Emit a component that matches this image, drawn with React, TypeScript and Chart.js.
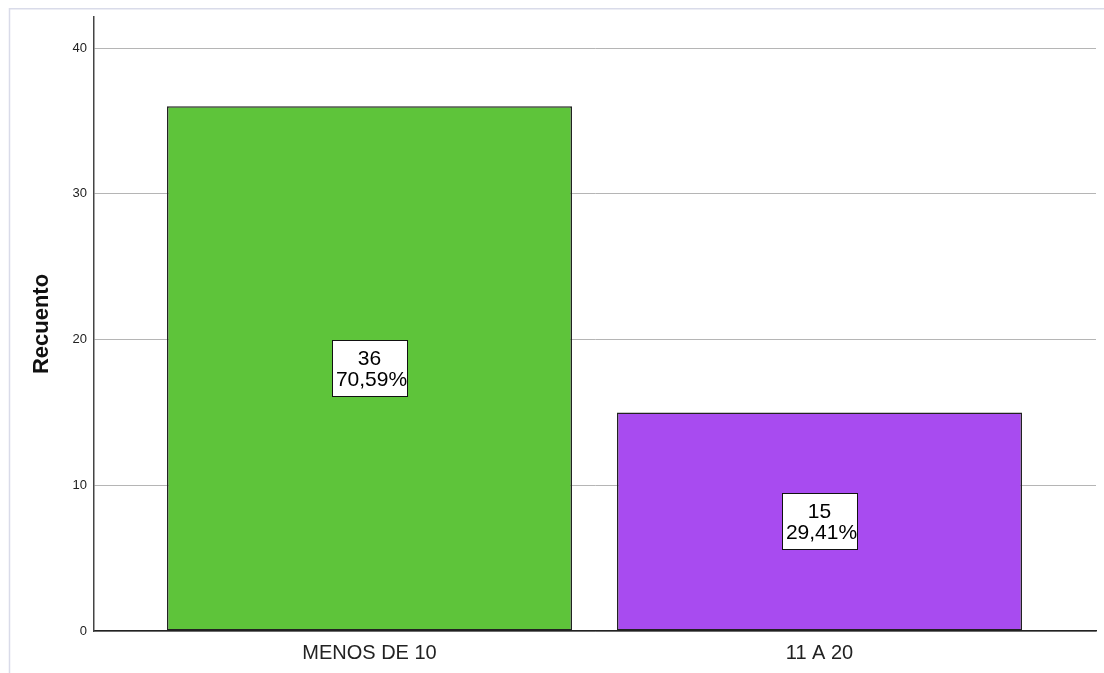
import React, { useEffect, useRef } from "react";
import { Chart, registerables } from "chart.js";

Chart.register(...registerables);

// Categories and counts
const categories = ["MENOS DE 10", "11 A 20"];
const counts = [36, 15];
const barColors = ["#5ec43a", "#a84bf0"];
const yTicks = [0, 10, 20, 30, 40];
const yTitle = "Recuento";

const FONT = "'Liberation Sans', Arial, Helvetica, sans-serif";

export default function App() {
  const canvasRef = useRef<HTMLCanvasElement | null>(null);

  useEffect(() => {
    const canvas = canvasRef.current;
    if (!canvas) return;
    const total = counts.reduce((a, b) => a + b, 0);

    // Outer light frame around the output panel
    const framePlugin = {
      id: "frame",
      beforeDraw(chart: any) {
        const ctx = chart.ctx;
        ctx.save();
        ctx.fillStyle = "#ffffff";
        ctx.fillRect(0, 0, chart.width, chart.height);
        ctx.strokeStyle = "#d9dbe9";
        ctx.lineWidth = 1.5;
        ctx.beginPath();
        ctx.moveTo(9.5, chart.height);
        ctx.lineTo(9.5, 8.75);
        ctx.lineTo(chart.width, 8.75);
        ctx.stroke();
        ctx.restore();
      },
    };

    // Rotated y-axis title and boxed count / percent labels inside bars
    const labelPlugin = {
      id: "barLabels",
      afterDraw(chart: any) {
        const ctx = chart.ctx;
        const area = chart.chartArea;
        ctx.save();
        ctx.translate(42, (area.top + area.bottom) / 2);
        ctx.rotate(-Math.PI / 2);
        ctx.fillStyle = "#111";
        ctx.font = `bold 22px ${FONT}`;
        ctx.textAlign = "center";
        ctx.textBaseline = "middle";
        ctx.fillText(yTitle, 0, 0);
        ctx.restore();

        const meta = chart.getDatasetMeta(0);
        meta.data.forEach((bar: any, i: number) => {
          const cx = bar.x;
          const cy = (bar.y + bar.base) / 2;
          const pct = ((counts[i] / total) * 100).toFixed(2).replace(".", ",") + "%";
          const w = 75;
          const h = 56;
          ctx.save();
          ctx.fillStyle = "#ffffff";
          ctx.fillRect(cx - w / 2, cy - h / 2, w, h);
          ctx.strokeStyle = "#111";
          ctx.lineWidth = 1;
          ctx.strokeRect(Math.round(cx - w / 2) + 0.5, Math.round(cy - h / 2) + 0.5, w, h);
          ctx.fillStyle = "#000";
          ctx.font = `21px ${FONT}`;
          ctx.textAlign = "center";
          ctx.textBaseline = "middle";
          ctx.fillText(String(counts[i]), cx, cy - 9);
          ctx.fillText(pct, cx + 2, cy + 12);
          ctx.restore();
        });
      },
    };

    const chart = new Chart(canvas, {
      type: "bar",
      data: {
        datasets: [
          {
            data: counts.map((v, i) => ({ x: i, y: v })),
            backgroundColor: barColors,
            borderColor: "#222222",
            borderWidth: 1.5,
            borderSkipped: false,
            categoryPercentage: 1,
            barPercentage: 0.9,
          },
        ],
      },
      options: {
        animation: false,
        responsive: false,
        maintainAspectRatio: false,
        layout: { padding: { left: 0, top: 17, right: 8, bottom: 0 } },
        plugins: { legend: { display: false }, tooltip: { enabled: false } },
        scales: {
          x: {
            type: "linear",
            offset: false,
            min: -0.6122,
            max: 1.6144,
            afterBuildTicks: (scale: any) => {
              scale.ticks = categories.map((_, i) => ({ value: i }));
            },
            afterFit: (scale: any) => {
              scale.height = 42;
            },
            grid: { display: false, drawTicks: false, offset: false },
            border: { display: true, color: "#222", width: 1.5 },
            ticks: {
              padding: 10,
              color: "#222",
              font: { family: FONT, size: 20 },
              callback: (v: any) => categories[Number(v)] ?? "",
            },
          },
          y: {
            min: 0,
            max: 42.13,
            afterBuildTicks: (scale: any) => {
              scale.ticks = yTicks.map((v) => ({ value: v }));
            },
            afterFit: (scale: any) => {
              scale.width = 94;
            },
            grid: { color: "#b5b5b5", lineWidth: 1, drawTicks: false },
            border: { display: true, color: "#444", width: 1.5 },
            ticks: {
              padding: 7,
              color: "#222",
              font: { family: FONT, size: 13 },
            },
          },
        },
      },
      plugins: [framePlugin, labelPlugin],
    } as any);

    return () => chart.destroy();
  }, []);

  return (
    <div style={{ position: "fixed", left: 0, top: 0, width: 1104, height: 673, background: "#fff" }}>
      <canvas ref={canvasRef} width={1104} height={673} style={{ width: 1104, height: 673, display: "block" }} />
    </div>
  );
}
